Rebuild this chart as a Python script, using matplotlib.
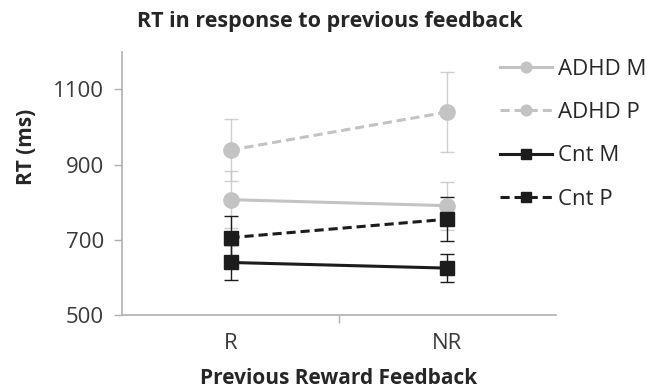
import numpy as np
import matplotlib.pyplot as plt

plt.rcParams['font.family'] = ['Open Sans', 'DejaVu Sans']

conditions = ['R', 'NR']
series = ['ADHD M', 'ADHD P', 'Cnt M', 'Cnt P']
rt_mean = {
    'ADHD M': [807, 791],
    'ADHD P': [939, 1040],
    'Cnt M': [640, 625],
    'Cnt P': [706, 755],
}
rt_err = {
    'ADHD M': [76, 64],
    'ADHD P': [83, 107],
    'Cnt M': [46, 38],
    'Cnt P': [57, 58],
}

grey = '#c3c3c3'
dark = '#1c1c1c'
styles = {
    'ADHD M': dict(color=grey, ls='-', marker='o', ms=11),
    'ADHD P': dict(color=grey, ls=(0, (3, 1.6)), marker='o', ms=11),
    'Cnt M': dict(color=dark, ls='-', marker='s', ms=10),
    'Cnt P': dict(color=dark, ls=(0, (3, 1.6)), marker='s', ms=10),
}

fig = plt.figure(figsize=(6.6, 3.9), dpi=100)
ax = fig.add_axes([0.185, 0.192, 0.657, 0.675])

x = np.arange(len(conditions))
for name in series:
    st = styles[name]
    ax.errorbar(x, rt_mean[name], yerr=rt_err[name], fmt='none',
                ecolor=st['color'], elinewidth=1.0, capsize=5, capthick=1.0,
                alpha=0.8 if st['color'] == grey else 1.0, zorder=2)
    ax.plot(x, rt_mean[name], color=st['color'], ls=st['ls'], lw=2.2,
            marker=st['marker'], ms=st['ms'], mfc=st['color'], mec=st['color'],
            label=name, zorder=3)

ax.set_xlim(-0.5, 1.5)
ax.set_ylim(500, 1200)
ax.set_yticks([500, 700, 900, 1100])
ax.set_xticks(x)
ax.set_xticklabels(conditions)
ax.set_xticks([0.5], minor=True)
ax.tick_params(axis='x', which='major', length=0, pad=13)
ax.tick_params(axis='x', which='minor', length=6, color='#b0b0b0', width=1)
ax.tick_params(axis='y', length=6, color='#b0b0b0', width=1, direction='out',
               pad=7)
ax.tick_params(labelsize=16, labelcolor='#3a3a3a')

for side in ['top', 'right']:
    ax.spines[side].set_visible(False)
for side in ['left', 'bottom']:
    ax.spines[side].set_color('#b0b0b0')
    ax.spines[side].set_linewidth(1.2)

ax.set_ylabel('RT (ms)', fontsize=15, fontweight='bold', color='#262626')
ax.yaxis.set_label_coords(-0.196, 0.64)
ax.set_xlabel('Previous Reward Feedback', fontsize=15, fontweight='bold',
              color='#262626')
ax.xaxis.set_label_coords(0.5, -0.2)
fig.text(0.5, 0.944, 'RT in response to previous feedback', ha='center',
         va='center', fontsize=15.5, fontweight='bold', color='#262626')

leg = ax.legend(loc='upper left', bbox_to_anchor=(0.728, 0.9),
                bbox_transform=fig.transFigure, frameon=False, fontsize=16,
                markerscale=0.7, handlelength=2.3, handletextpad=0.3,
                labelspacing=1.0)
for t in leg.get_texts():
    t.set_color('#262626')

fig.savefig('out.png', dpi=100)
